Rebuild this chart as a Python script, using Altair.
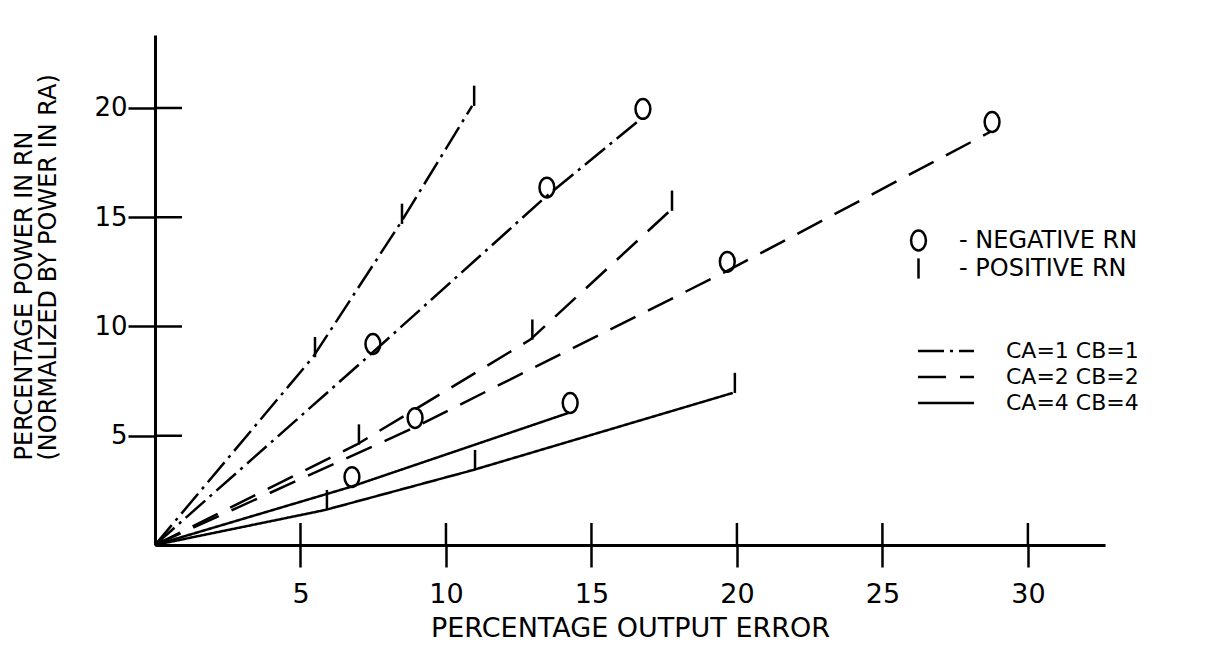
import altair as alt
import pandas as pd

# ---- data ----
ca_labels = ["CA=1 CB=1", "CA=2 CB=2", "CA=4 CB=4"]
rn_labels = ["NEGATIVE RN", "POSITIVE RN"]

ca1_pos_x = [0, 5.43, 8.42, 10.9]
ca1_pos_y = [0, 8.6, 14.7, 20.1]
ca1_neg_x = [0, 7.42, 13.4, 16.7]
ca1_neg_y = [0, 8.74, 15.9, 19.5]
ca2_pos_x = [0, 6.94, 12.9, 17.7]
ca2_pos_y = [0, 4.6, 9.4, 15.3]
ca2_neg_x = [0, 8.87, 19.6, 28.7]
ca2_neg_y = [0, 5.35, 12.5, 18.9]
ca4_pos_x = [0, 5.84, 10.93, 19.86]
ca4_pos_y = [0, 1.6, 3.43, 6.96]
ca4_neg_x = [0, 6.7, 14.2]
ca4_neg_y = [0, 2.65, 6.04]

x_ticks = [5, 10, 15, 20, 25, 30]
y_ticks = [5, 10, 15, 20]

curves = [
    (ca_labels[0], rn_labels[1], ca1_pos_x, ca1_pos_y),
    (ca_labels[0], rn_labels[0], ca1_neg_x, ca1_neg_y),
    (ca_labels[1], rn_labels[1], ca2_pos_x, ca2_pos_y),
    (ca_labels[1], rn_labels[0], ca2_neg_x, ca2_neg_y),
    (ca_labels[2], rn_labels[1], ca4_pos_x, ca4_pos_y),
    (ca_labels[2], rn_labels[0], ca4_neg_x, ca4_neg_y),
]

rows = []
for ca, rn, xs, ys in curves:
    for i, (x, y) in enumerate(zip(xs, ys)):
        rows.append({"ca": ca, "rn": rn, "curve": ca + " " + rn, "order": i, "x": x, "y": y})
df = pd.DataFrame(rows)
xt = pd.DataFrame({"x": x_ticks})
yt = pd.DataFrame({"y": y_ticks})

FONT = "DejaVu Sans"
W, H = 950, 510
xscale = alt.Scale(domain=[0, 32.65], nice=False, zero=True)
yscale = alt.Scale(domain=[0, 23.34], nice=False, zero=True)

x_axis = alt.Axis(
    values=x_ticks, title="PERCENTAGE OUTPUT ERROR", grid=False,
    domainColor="black", domainWidth=3, tickColor="black", tickWidth=2.5, tickSize=22,
    labelPadding=14, labelFontSize=27, labelFont=FONT, labelColor="black",
    titleFont=FONT, titleFontSize=27, titleFontWeight="normal", titleColor="black",
    titlePadding=8)
y_axis = alt.Axis(
    values=y_ticks, title=["PERCENTAGE POWER IN RN", "(NORMALIZED BY POWER IN RA)"],
    grid=False, domainColor="black", domainWidth=3, tickColor="black", tickWidth=2.5,
    tickSize=27, labelPadding=1, labelFontSize=26, labelFont=FONT, labelColor="black",
    titleFont=FONT, titleFontSize=24, titleFontWeight="normal", titleColor="black",
    titleAngle=270, titleAlign="left", titleBaseline="top", titleX=-143, titleY=425,
    titleLineHeight=24)

O_PATH = ("M0,-0.9C0.3728,-0.9,0.675,-0.4971,0.675,0C0.675,0.4971,0.3728,0.9,0,0.9"
          "C-0.3728,0.9,-0.675,0.4971,-0.675,0C-0.675,-0.4971,-0.3728,-0.9,0,-0.9Z")
I_PATH = "M0,-0.92L0,0.92"
LINE_SYM = "M-5.6,0H5.6"

lines = alt.Chart(df).mark_line(color="black", strokeWidth=2.5).encode(
    x=alt.X("x:Q", scale=xscale, axis=x_axis),
    y=alt.Y("y:Q", scale=yscale, axis=y_axis),
    detail="curve:N",
    order="order:Q",
    strokeDash=alt.StrokeDash("ca:N", scale=alt.Scale(
        domain=ca_labels, range=[[26, 6, 3, 6], [28, 14], [1, 0]]),
        legend=alt.Legend(orient="none", legendX=780, legendY=305, title=None,
                          symbolType=LINE_SYM, symbolSize=100, symbolStrokeWidth=2.5,
                          symbolStrokeColor="black", labelOffset=49, labelFontSize=22,
                          labelFont=FONT, labelColor="black", labelLimit=400,
                          rowPadding=4, padding=0)),
)

markers = alt.Chart(df).transform_filter("datum.order > 0").mark_point(
    filled=False, color="black", strokeWidth=2.5, size=484, xOffset=2, yOffset=-10, opacity=1
).encode(
    x=alt.X("x:Q", scale=xscale, axis=x_axis),
    y=alt.Y("y:Q", scale=yscale, axis=y_axis),
    shape=alt.Shape("rn:N", scale=alt.Scale(domain=rn_labels, range=[O_PATH, I_PATH]),
                    legend=alt.Legend(orient="none", legendX=751, legendY=193, title=None,
                                      symbolSize=484, symbolStrokeWidth=2.5,
                                      symbolStrokeColor="black", symbolFillColor="transparent",
                                      labelExpr="'-  ' + datum.label", labelOffset=28,
                                      labelFontSize=24, labelFont=FONT, labelColor="black",
                                      labelLimit=400, rowPadding=-6, padding=0)),
)

xin = alt.Chart(xt).mark_rule(color="black", strokeWidth=2.5).encode(
    x=alt.X("x:Q", scale=xscale, axis=x_axis), y=alt.value(H), y2=alt.value(H - 22))
yin = alt.Chart(yt).mark_rule(color="black", strokeWidth=2.5).encode(
    y=alt.Y("y:Q", scale=yscale, axis=y_axis), x=alt.value(0), x2=alt.value(27))

chart = alt.layer(lines, markers, xin, yin).properties(
    width=W, height=H,
    autosize=alt.AutoSizeParams(type="none"),
    padding={"left": 147, "top": 27, "right": 100, "bottom": 105},
).configure(font=FONT).configure_view(stroke=None)

chart.save("out.html", embed_options={"renderer": "svg", "actions": False})
